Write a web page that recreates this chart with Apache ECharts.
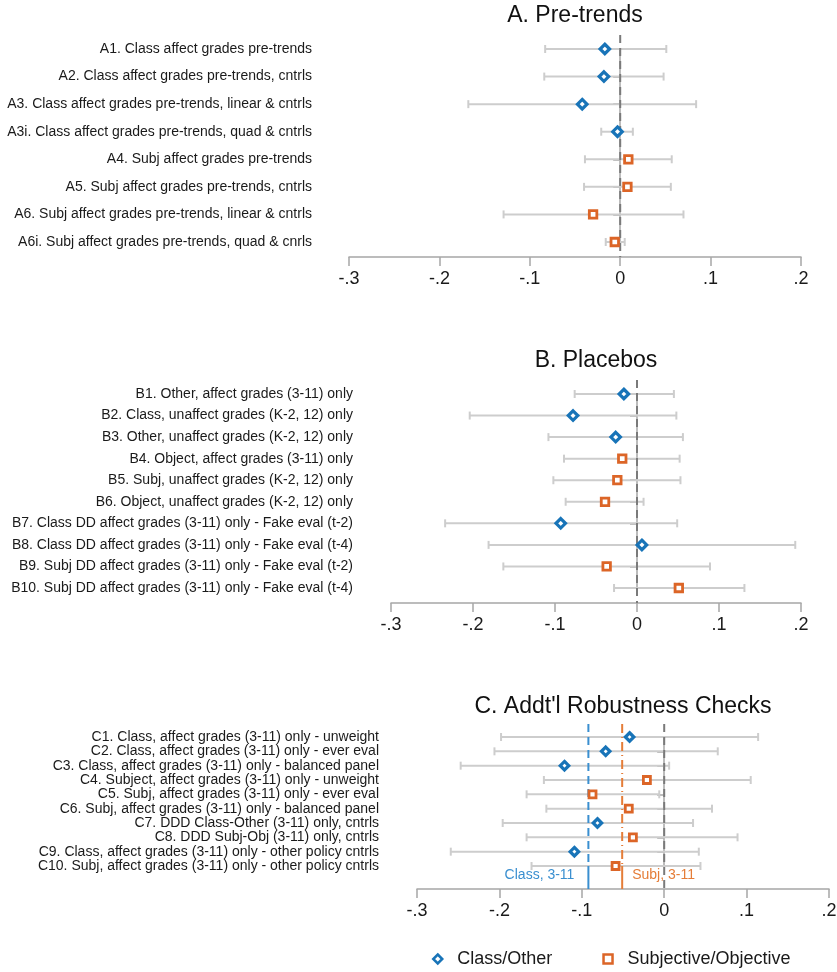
<!DOCTYPE html>
<html>
<head>
<meta charset="utf-8">
<script src="https://cdn.jsdelivr.net/npm/echarts@6/dist/echarts.min.js"></script>
<style>
  html, body { margin: 0; padding: 0; background: #ffffff; }
  #chart { width: 837px; height: 972px; }
</style>
</head>
<body>
<div id="chart"></div>
<script>
// ---- data -----------------------------------------------------------------
const xTickLabels = ['-.3', '-.2', '-.1', '0', '.1', '.2'];

const preTrendLabels = [
  'A1. Class affect grades pre-trends',
  'A2. Class affect grades pre-trends, cntrls',
  'A3. Class affect grades pre-trends, linear & cntrls',
  'A3i. Class affect grades pre-trends, quad & cntrls',
  'A4. Subj affect grades pre-trends',
  'A5. Subj affect grades pre-trends, cntrls',
  'A6. Subj affect grades pre-trends, linear & cntrls',
  'A6i. Subj affect grades pre-trends, quad & cnrls'
];
const preTrendEst = [-0.017, -0.018, -0.042, -0.003, 0.009, 0.008, -0.030, -0.006];
const preTrendLo  = [-0.083, -0.084, -0.168, -0.021, -0.039, -0.040, -0.129, -0.016];
const preTrendHi  = [0.051, 0.048, 0.084, 0.014, 0.057, 0.056, 0.070, 0.005];
const preTrendGroup = ['class', 'class', 'class', 'class', 'subj', 'subj', 'subj', 'subj'];

const placeboLabels = [
  'B1. Other, affect grades (3-11) only',
  'B2. Class, unaffect grades (K-2, 12) only',
  'B3. Other, unaffect grades (K-2, 12) only',
  'B4. Object, affect grades (3-11) only',
  'B5. Subj, unaffect grades (K-2, 12) only',
  'B6. Object, unaffect grades (K-2, 12) only',
  'B7. Class DD affect grades (3-11) only - Fake eval (t-2)',
  'B8. Class DD affect grades (3-11) only - Fake eval (t-4)',
  'B9. Subj DD affect grades (3-11) only - Fake eval (t-2)',
  'B10. Subj DD affect grades (3-11) only - Fake eval (t-4)'
];
const placeboEst = [-0.016, -0.078, -0.026, -0.018, -0.024, -0.039, -0.093, 0.006, -0.037, 0.051];
const placeboLo  = [-0.076, -0.204, -0.108, -0.089, -0.102, -0.087, -0.234, -0.181, -0.163, -0.028];
const placeboHi  = [0.045, 0.048, 0.056, 0.052, 0.053, 0.008, 0.049, 0.193, 0.089, 0.131];
const placeboGroup = ['class', 'class', 'class', 'subj', 'subj', 'subj', 'class', 'class', 'subj', 'subj'];

const robustLabels = [
  'C1. Class, affect grades (3-11) only - unweight',
  'C2. Class, affect grades (3-11) only - ever eval',
  'C3. Class, affect grades (3-11) only - balanced panel',
  'C4. Subject, affect grades (3-11) only - unweight',
  'C5. Subj, affect grades (3-11) only - ever eval',
  'C6. Subj, affect grades (3-11) only - balanced panel',
  'C7. DDD Class-Other (3-11) only, cntrls',
  'C8. DDD Subj-Obj (3-11) only, cntrls',
  'C9. Class, affect grades (3-11) only - other policy cntrls',
  'C10. Subj, affect grades (3-11) only - other policy cntrls'
];
const robustEst = [-0.042, -0.071, -0.121, -0.021, -0.087, -0.043, -0.081, -0.038, -0.109, -0.059];
const robustLo  = [-0.198, -0.206, -0.247, -0.146, -0.167, -0.143, -0.196, -0.167, -0.259, -0.161];
const robustHi  = [0.114, 0.065, 0.006, 0.105, -0.006, 0.058, 0.035, 0.089, 0.042, 0.044];
const robustGroup = ['class', 'class', 'class', 'subj', 'subj', 'subj', 'class', 'subj', 'class', 'subj'];

// baseline (grades 3-11) estimates drawn as reference lines in panel C
const classBaseline = -0.092;
const subjBaseline = -0.051;
const classBaselineLabel = 'Class, 3-11';
const subjBaselineLabel = 'Subj, 3-11';

const seriesNames = { class: 'Class/Other', subj: 'Subjective/Objective' };

// ---- styling ----------------------------------------------------------------
const FONT = "'Liberation Sans', Arial, Helvetica, sans-serif";
const BLUE = '#1874b8';
const ORANGE = '#dc6527';
const BLUE_LINE = '#3a8fd0';
const ORANGE_LINE = '#e57d38';
const BAR_COLOR = '#cdcdcd';
const AXIS_COLOR = '#a6a6a6';
const ZERO_COLOR = '#7a7a7a';
const TEXT_COLOR = '#1a1a1a';

const panels = [
  {
    title: 'A. Pre-trends', titleX: 575, titleY: 16,
    labels: preTrendLabels, est: preTrendEst, lo: preTrendLo, hi: preTrendHi, group: preTrendGroup,
    grid: { left: 349, right: 36, top: 49, height: 193 },
    yOffset: 17, xOffset: 15, labelMargin: 20, lineAbove: 14,
    diamond: 9.5, square: 7.5,
    refs: [{ value: 0, kind: 'zero' }]
  },
  {
    title: 'B. Placebos', titleX: 596, titleY: 361,
    labels: placeboLabels, est: placeboEst, lo: placeboLo, hi: placeboHi, group: placeboGroup,
    grid: { left: 391, right: 36, top: 394, height: 194 },
    yOffset: 15, xOffset: 15, labelMargin: 23, lineAbove: 14,
    diamond: 9.5, square: 7.5,
    refs: [{ value: 0, kind: 'zero' }]
  },
  {
    title: "C. Addt'l Robustness Checks", titleX: 623, titleY: 707,
    labels: robustLabels, est: robustEst, lo: robustLo, hi: robustHi, group: robustGroup,
    grid: { left: 417, right: 8, top: 737, height: 129 },
    yOffset: 16, xOffset: 23, labelMargin: 22, lineAbove: 13,
    diamond: 8.5, square: 7,
    refs: [
      { value: classBaseline, kind: 'class', label: classBaselineLabel },
      { value: subjBaseline, kind: 'subj', label: subjBaselineLabel },
      { value: 0, kind: 'zero' }
    ]
  }
];

const refStyles = {
  zero:  { stroke: ZERO_COLOR, lineWidth: 2, lineDash: [8, 5] },
  class: { stroke: BLUE_LINE, lineWidth: 2, lineDash: [8, 5] },
  subj:  { stroke: ORANGE_LINE, lineWidth: 2, lineDash: [9, 4, 1, 4] }
};

// ---- renderers -------------------------------------------------------------
function renderErrorBar(params, api) {
  const row = api.value(2);
  const a = api.coord([api.value(0), row]);
  const b = api.coord([api.value(1), row]);
  const cap = 4;
  const style = { stroke: BAR_COLOR, lineWidth: 2 };
  return {
    type: 'group',
    children: [
      { type: 'line', shape: { x1: a[0], y1: a[1], x2: b[0], y2: b[1] }, style },
      { type: 'line', shape: { x1: a[0], y1: a[1] - cap, x2: a[0], y2: a[1] + cap }, style },
      { type: 'line', shape: { x1: b[0], y1: b[1] - cap, x2: b[0], y2: b[1] + cap }, style }
    ]
  };
}

function makeRefRenderer(panel) {
  return function (params, api) {
    const ref = panel.refs[params.dataIndex];
    const x = api.coord([api.value(0), 0])[0];
    const cs = params.coordSys;
    const top = cs.y - panel.lineAbove;
    const gridBottom = cs.y + cs.height;
    const axisY = gridBottom + panel.xOffset;
    const st = refStyles[ref.kind];
    const children = [];
    if (ref.kind === 'zero') {
      children.push({ type: 'line', shape: { x1: x, y1: top, x2: x, y2: axisY }, style: Object.assign({}, st) });
    } else {
      // dashed over the rows, solid through the label strip down to the axis
      children.push({ type: 'line', shape: { x1: x, y1: top, x2: x, y2: gridBottom }, style: Object.assign({}, st) });
      children.push({ type: 'line', shape: { x1: x, y1: gridBottom, x2: x, y2: axisY }, style: { stroke: st.stroke, lineWidth: st.lineWidth } });
      const isClass = ref.kind === 'class';
      children.push({
        type: 'text',
        x: isClass ? x - 14 : x + 10,
        y: gridBottom + 9,
        style: {
          text: ref.label,
          fill: st.stroke,
          font: '14px ' + FONT,
          align: isClass ? 'right' : 'left',
          verticalAlign: 'middle'
        }
      });
    }
    return { type: 'group', children };
  };
}

// ---- option ----------------------------------------------------------------
const grids = [];
const xAxes = [];
const yAxes = [];
const series = [];
const graphics = [];

panels.forEach((p, i) => {
  grids.push(Object.assign({ containLabel: false, outerBoundsMode: 'none' }, p.grid));

  xAxes.push({
    type: 'value', gridIndex: i, min: -0.3, max: 0.2, interval: 0.1,
    position: 'bottom', offset: p.xOffset,
    axisLine: { show: true, onZero: false, lineStyle: { color: AXIS_COLOR, width: 1.5 } },
    axisTick: { show: true, length: 9, lineStyle: { color: AXIS_COLOR, width: 1.5 } },
    axisLabel: {
      fontSize: 18, fontFamily: FONT, color: TEXT_COLOR, margin: 13,
      formatter: v => xTickLabels[Math.round((v + 0.3) / 0.1)]
    },
    splitLine: { show: false }
  });

  yAxes.push({
    type: 'category', gridIndex: i, data: p.labels, inverse: true, boundaryGap: false,
    position: 'left', offset: p.yOffset,
    axisLine: { show: true, lineStyle: { color: AXIS_COLOR, width: 1.5 } },
    axisTick: { show: true, length: 7, interval: 0, lineStyle: { color: AXIS_COLOR, width: 1.5 } },
    axisLabel: { interval: 0, fontSize: 14, fontFamily: FONT, color: TEXT_COLOR, margin: p.labelMargin },
    splitLine: { show: false }
  });

  series.push({
    type: 'custom', xAxisIndex: i, yAxisIndex: i, silent: true, clip: false, z: 2,
    data: p.lo.map((l, k) => [l, p.hi[k], k]),
    encode: { x: [0, 1], y: 2 },
    renderItem: renderErrorBar
  });

  series.push({
    type: 'custom', xAxisIndex: i, yAxisIndex: i, silent: true, clip: false, z: 3,
    data: p.refs.map(r => [r.value, 0]),
    encode: { x: 0, y: 1 },
    renderItem: makeRefRenderer(p)
  });

  ['class', 'subj'].forEach(g => {
    const isClass = g === 'class';
    series.push({
      type: 'scatter', name: seriesNames[g], xAxisIndex: i, yAxisIndex: i, z: 4,
      symbol: isClass ? 'diamond' : 'rect',
      symbolSize: isClass ? p.diamond : p.square,
      itemStyle: { color: '#ffffff', borderColor: isClass ? BLUE : ORANGE, borderWidth: isClass ? 3.2 : 2.8, opacity: 1 },
      data: p.est.map((v, k) => (p.group[k] === g ? [v, k] : null)).filter(d => d !== null)
    });
  });

  graphics.push({
    type: 'text', x: p.titleX, y: p.titleY,
    style: { text: p.title, font: '23px ' + FONT, fill: '#111111', align: 'center', verticalAlign: 'middle' }
  });
});

const option = {
  backgroundColor: '#ffffff',
  animation: false,
  grid: grids,
  xAxis: xAxes,
  yAxis: yAxes,
  series: series,
  graphic: graphics,
  legend: {
    data: [
      { name: seriesNames.class, icon: 'diamond', itemStyle: { borderWidth: 2.5 } },
      { name: seriesNames.subj, icon: 'rect', itemStyle: { borderWidth: 2.5 } }
    ],
    left: 427, top: 945,
    itemWidth: 9, itemHeight: 9, itemGap: 50,
    textStyle: { fontSize: 18, fontFamily: FONT, color: TEXT_COLOR, padding: [0, 0, 0, 10] },
    selectedMode: false
  }
};

const chart = echarts.init(document.getElementById('chart'), null, { renderer: 'canvas' });
chart.setOption(option);
</script>
</body>
</html>
